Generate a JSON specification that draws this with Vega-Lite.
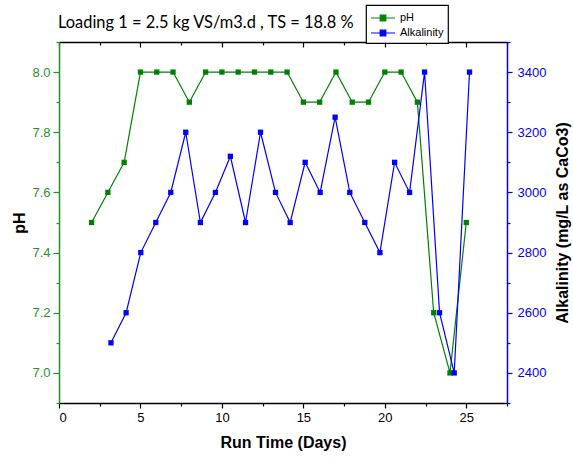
{
  "$schema": "https://vega.github.io/schema/vega-lite/v6.json",
  "width": 448,
  "height": 361,
  "autosize": "none",
  "padding": {"left": 59, "top": 42, "right": 66, "bottom": 58},
  "background": "white",
  "config": {"view": {"stroke": null}, "font": "Liberation Sans", "legend": {"strokeWidth": 1.2}},
  "title": {
    "text": "Loading 1 = 2.5 kg VS/m3.d , TS = 18.8 %",
    "anchor": "start",
    "frame": "group",
    "font": "Lato",
    "fontSize": 16.4,
    "fontWeight": "normal",
    "color": "black",
    "baseline": "alphabetic",
    "offset": -40,
    "dx": -1
  },
  "datasets": {
    "ph": [
      {"day": 2, "pH": 7.5}, {"day": 3, "pH": 7.6}, {"day": 4, "pH": 7.7},
      {"day": 5, "pH": 8.0}, {"day": 6, "pH": 8.0}, {"day": 7, "pH": 8.0},
      {"day": 8, "pH": 7.9}, {"day": 9, "pH": 8.0}, {"day": 10, "pH": 8.0},
      {"day": 11, "pH": 8.0}, {"day": 12, "pH": 8.0}, {"day": 13, "pH": 8.0},
      {"day": 14, "pH": 8.0}, {"day": 15, "pH": 7.9}, {"day": 16, "pH": 7.9},
      {"day": 17, "pH": 8.0}, {"day": 18, "pH": 7.9}, {"day": 19, "pH": 7.9},
      {"day": 20, "pH": 8.0}, {"day": 21, "pH": 8.0}, {"day": 22, "pH": 7.9},
      {"day": 23, "pH": 7.2}, {"day": 24, "pH": 7.0}, {"day": 25, "pH": 7.5}
    ],
    "alk": [
      {"day": 3.19, "alkalinity": 2500}, {"day": 4.12, "alkalinity": 2600},
      {"day": 5.02, "alkalinity": 2800}, {"day": 5.94, "alkalinity": 2900},
      {"day": 6.86, "alkalinity": 3000}, {"day": 7.78, "alkalinity": 3200},
      {"day": 8.68, "alkalinity": 2900}, {"day": 9.6, "alkalinity": 3000},
      {"day": 10.52, "alkalinity": 3120}, {"day": 11.45, "alkalinity": 2900},
      {"day": 12.37, "alkalinity": 3200}, {"day": 13.29, "alkalinity": 3000},
      {"day": 14.19, "alkalinity": 2900}, {"day": 15.11, "alkalinity": 3100},
      {"day": 16.03, "alkalinity": 3000}, {"day": 16.95, "alkalinity": 3250},
      {"day": 17.85, "alkalinity": 3000}, {"day": 18.77, "alkalinity": 2900},
      {"day": 19.7, "alkalinity": 2800}, {"day": 20.6, "alkalinity": 3100},
      {"day": 21.52, "alkalinity": 3000}, {"day": 22.44, "alkalinity": 3400},
      {"day": 23.36, "alkalinity": 2600}, {"day": 24.26, "alkalinity": 2400},
      {"day": 25.2, "alkalinity": 3400}
    ]
  },
  "layer": [
    {
      "data": {"name": "ph"},
      "mark": {"type": "line", "strokeWidth": 1.2, "point": {"shape": "square", "size": 28, "filled": true}},
      "encoding": {
        "x": {
          "field": "day", "type": "quantitative",
          "scale": {"domain": [0, 27.5], "nice": false, "zero": false},
          "axis": {
            "orient": "bottom",
            "title": "Run Time (Days)",
            "titleFontSize": 16, "titleFontWeight": "bold", "titleColor": "black", "titlePadding": 10,
            "values": [0, 2.5, 5, 7.5, 10, 12.5, 15, 17.5, 20, 22.5, 25, 27.5],
            "labelExpr": "datum.value % 5 === 0 ? datum.label : ''",
            "labelFontSize": 13, "labelColor": "black", "labelPadding": 3,
            "domainColor": "black", "domainWidth": 1.5,
            "tickColor": "black", "tickWidth": 1.2,
            "tickSize": {"condition": {"test": "datum.value % 5 === 0", "value": 5}, "value": 3},
            "grid": false
          }
        },
        "y": {
          "field": "pH", "type": "quantitative",
          "scale": {"domain": [6.9, 8.1], "nice": false, "zero": false},
          "axis": {
            "orient": "left",
            "title": "pH",
            "titleFontSize": 16, "titleFontWeight": "bold", "titleColor": "black", "titlePadding": 4,
            "values": [6.9, 7.0, 7.1, 7.2, 7.3, 7.4, 7.5, 7.6, 7.7, 7.8, 7.9, 8.0, 8.1],
            "labelExpr": "round(datum.value * 10) % 2 === 0 ? format(datum.value, '.1f') : ''",
            "labelFontSize": 13, "labelColor": "#1e961e", "labelPadding": 3,
            "domainColor": "#1e961e", "domainWidth": 1.5,
            "tickColor": "#1e961e", "tickWidth": 1.2,
            "tickSize": {"condition": {"test": "round(datum.value * 10) % 2 === 0", "value": 6}, "value": 3},
            "grid": false
          }
        },
        "color": {
          "datum": "pH",
          "scale": {"domain": ["pH", "Alkalinity"], "range": ["#008000", "#0000ff"]},
          "legend": {
            "orient": "none", "legendX": 307, "legendY": -37,
            "title": null,
            "strokeColor": "black", "fillColor": "white", "padding": 4,
            "symbolType": "M-1.5,0H1.5M-0.35,-0.35H0.35V0.35H-0.35Z",
            "symbolSize": 256, "symbolStrokeWidth": 1.2, "symbolOffset": 4,
            "labelFont": "Liberation Sans", "labelFontSize": 11, "labelOffset": 8, "rowPadding": 0,
            "encode": {
              "symbols": {"update": {"fill": {"scale": "color", "field": "value"}}},
              "legend": {"update": {"stroke": {"value": "black"}, "strokeWidth": {"value": 1.2}, "fill": {"value": "white"}}}
            }
          }
        }
      }
    },
    {
      "data": {"name": "alk"},
      "mark": {"type": "line", "strokeWidth": 1.2, "point": {"shape": "square", "size": 28, "filled": true}},
      "encoding": {
        "x": {
          "field": "day", "type": "quantitative",
          "axis": {
            "orient": "top", "title": null, "labels": false,
            "values": [0, 2.5, 5, 7.5, 10, 12.5, 15, 17.5, 20, 22.5, 25, 27.5],
            "domainColor": "black", "domainWidth": 1.5,
            "tickColor": "black", "tickWidth": 1.2,
            "tickSize": {"condition": {"test": "datum.value % 5 === 0", "value": -5}, "value": -3},
            "grid": false
          }
        },
        "y": {
          "field": "alkalinity", "type": "quantitative",
          "scale": {"domain": [2300, 3500], "nice": false, "zero": false},
          "axis": {
            "orient": "right",
            "title": "Alkalinity (mg/L as CaCo3)",
            "titleFontSize": 16, "titleFontWeight": "bold", "titleColor": "black", "titlePadding": 9,
            "titleAngle": 270, "titleBaseline": "top",
            "values": [2300, 2400, 2500, 2600, 2700, 2800, 2900, 3000, 3100, 3200, 3300, 3400, 3500],
            "labelExpr": "datum.value % 200 === 0 ? format(datum.value, 'd') : ''",
            "labelFontSize": 13, "labelColor": "#0000ff", "labelPadding": 5,
            "domainColor": "#0000ff", "domainWidth": 1.5,
            "tickColor": "#0000ff", "tickWidth": 1.2,
            "tickSize": {"condition": {"test": "datum.value % 200 === 0", "value": 5}, "value": 3},
            "grid": false
          }
        },
        "color": {"datum": "Alkalinity"}
      }
    }
  ],
  "resolve": {"scale": {"y": "independent"}, "axis": {"x": "independent"}}
}
